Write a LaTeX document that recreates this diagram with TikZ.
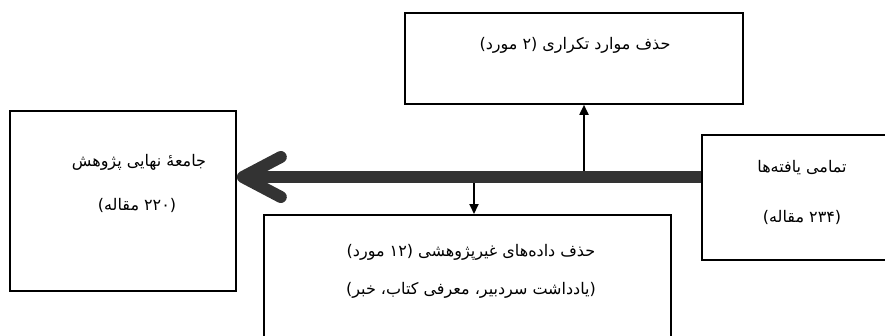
\documentclass[tikz,border=0pt]{standalone}
\usepackage{fontspec}
\usepackage{tikz}
\usetikzlibrary{arrows.meta}
\newfontfamily\farsi[Script=Arabic]{DejaVu Sans}
\TeXXeTstate=1
\newcommand{\rtl}[1]{{\farsi\beginR #1\endR}}

\begin{document}
\begin{tikzpicture}[x=1pt,y=-1pt,
  box/.style={draw,line width=1.8pt,inner sep=0pt,anchor=north west},
  txt/.style={font=\fontsize{16}{18}\selectfont,inner sep=0pt},
  trunk/.style={line width=12pt,draw=black!80,-{Straight Barb[round,length=38pt,width=40pt]}},
  thinarrow/.style={line width=1.8pt,-{Triangle[length=10pt,width=9pt]}}]
\useasboundingbox (0,0) rectangle (885,335);
% boxes
\node[box,minimum width=338pt,minimum height=91pt] (dup) at (404,12) {};
\node[box,minimum width=200pt,minimum height=125pt] (all) at (701,134) {};
\node[box,minimum width=226pt,minimum height=180pt] (final) at (9,110) {};
\node[box,minimum width=407pt,minimum height=140pt] (nonres) at (263,214) {};
% texts
\node[txt] (duptxt) at (575,45) {\rtl{حذف موارد تکراری (۲ مورد)}};
\node[txt] (alltxta) at (802,168) {\rtl{تمامی یافته‌ها}};
\node[txt] (alltxtb) at (802,217) {\rtl{(۲۳۴ مقاله)}};
\node[txt] (finaltxta) at (139,162) {\rtl{جامعهٔ نهایی پژوهش}};
\node[txt] (finaltxtb) at (137,205) {\rtl{(۲۲۰ مقاله)}};
\node[txt] (nonrestxta) at (471,252) {\rtl{حذف داده‌های غیرپژوهشی (۱۲ مورد)}};
\node[txt] (nonrestxtb) at (471,290) {\rtl{(یادداشت سردبیر، معرفی کتاب، خبر)}};
% arrows
\draw[trunk] (all.west |- 0,177) -- (final.east |- 0,177);
\coordinate (upfoot) at (584,171);
\coordinate (downfoot) at (474,183);
\draw[thinarrow] (upfoot) -- (upfoot |- dup.south);
\draw[thinarrow] (downfoot) -- (downfoot |- nonres.north);
\end{tikzpicture}
\end{document}
